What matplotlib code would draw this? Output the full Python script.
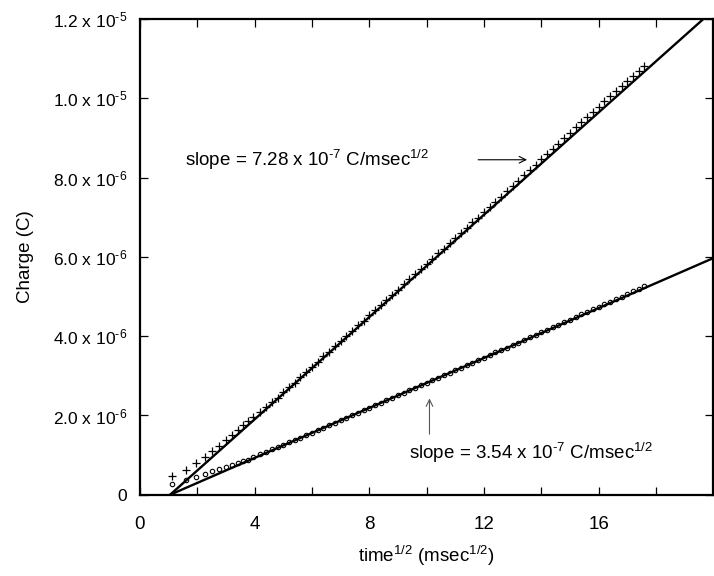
import matplotlib
matplotlib.use("Agg")
import matplotlib.pyplot as plt
from matplotlib.ticker import FixedLocator, FixedFormatter

plt.rcParams['font.family'] = ['Liberation Sans', 'DejaVu Sans']
plt.rcParams['mathtext.fontset'] = 'custom'
plt.rcParams['mathtext.rm'] = 'Liberation Sans'
plt.rcParams['mathtext.it'] = 'Liberation Sans'
plt.rcParams['mathtext.default'] = 'regular'

# ---- data ----
# square root of time, msec^1/2 (shared by both runs)
sqrt_t = [1.12, 1.62, 1.97, 2.26, 2.53, 2.76, 3.01, 3.22, 3.42, 3.61, 3.78, 3.95,
          4.2, 4.4, 4.6, 4.8, 5.0, 5.2, 5.4, 5.6, 5.8, 6.0, 6.2, 6.4, 6.6, 6.8,
          7.0, 7.2, 7.4, 7.6, 7.8, 8.0, 8.2, 8.4, 8.6, 8.8, 9.0, 9.2, 9.4, 9.6,
          9.8, 10.0, 10.2, 10.4, 10.6, 10.8, 11.0, 11.2, 11.4, 11.6, 11.8, 12.0,
          12.2, 12.4, 12.6, 12.8, 13.0, 13.2, 13.4, 13.6, 13.8, 14.0, 14.2, 14.4,
          14.6, 14.8, 15.0, 15.2, 15.4, 15.6, 15.8, 16.0, 16.2, 16.4, 16.6, 16.8,
          17.0, 17.2, 17.4, 17.6]

# charge, microcoulombs
charge_upper_uC = [0.48, 0.63, 0.81, 0.96, 1.10, 1.23, 1.37, 1.51, 1.64, 1.76, 1.86, 1.96,
                   2.09, 2.21, 2.33, 2.45, 2.58, 2.71, 2.83, 2.97, 3.09, 3.23, 3.35, 3.49, 3.61, 3.75,
                   3.87, 4.01, 4.13, 4.27, 4.39, 4.53, 4.65, 4.79, 4.91, 5.05, 5.17, 5.31, 5.43, 5.57,
                   5.69, 5.83, 5.95, 6.09, 6.21, 6.35, 6.47, 6.61, 6.73, 6.87, 6.99, 7.13,
                   7.25, 7.39, 7.52, 7.65, 7.79, 7.92, 8.06, 8.19, 8.33, 8.46, 8.60, 8.73,
                   8.86, 9.00, 9.13, 9.27, 9.40, 9.53, 9.66, 9.79, 9.92, 10.05, 10.18, 10.31,
                   10.44, 10.57, 10.70, 10.82]

charge_lower_uC = [0.27, 0.38, 0.46, 0.53, 0.60, 0.65, 0.71, 0.76, 0.80, 0.84, 0.88, 0.95,
                   1.03, 1.09, 1.15, 1.21, 1.26, 1.32, 1.38, 1.44, 1.50, 1.57, 1.63, 1.69, 1.75, 1.82,
                   1.88, 1.94, 2.00, 2.07, 2.13, 2.19, 2.26, 2.32, 2.38, 2.45, 2.51, 2.57, 2.64, 2.70,
                   2.76, 2.83, 2.89, 2.95, 3.02, 3.08, 3.14, 3.21, 3.27, 3.33, 3.40, 3.46,
                   3.52, 3.59, 3.65, 3.71, 3.78, 3.84, 3.90, 3.97, 4.03, 4.10, 4.16, 4.22,
                   4.29, 4.35, 4.42, 4.48, 4.55, 4.61, 4.68, 4.74, 4.81, 4.87, 4.94, 5.00,
                   5.07, 5.13, 5.20, 5.26]

# fitted lines (as drawn): x-intercept and slope in C per msec^1/2
fit_intercept = 1.05
fit_slope_upper = 6.45e-7
fit_slope_lower = 3.15e-7

xticks = [0, 4, 8, 12, 16]
xtick_minor = [2, 6, 10, 14, 18]
yticks = [0, 2e-6, 4e-6, 6e-6, 8e-6, 1.0e-5, 1.2e-5]
H = '\u2010'  # short hyphen used in the exponents
ytick_labels = ['0', '2.0 x 10$^{' + H + '6}$', '4.0 x 10$^{' + H + '6}$',
                '6.0 x 10$^{' + H + '6}$', '8.0 x 10$^{' + H + '6}$',
                '1.0 x 10$^{' + H + '5}$', '1.2 x 10$^{' + H + '5}$']

# ---- figure ----
fig = plt.figure(figsize=(7.14, 5.76), dpi=100)
ax = fig.add_axes([0.196, 0.141, 0.803, 0.826])

ax.plot(sqrt_t, [v * 1e-6 for v in charge_upper_uC], linestyle='none', marker='+',
        markersize=5.2, markeredgewidth=0.9, color='black', zorder=3)
ax.plot(sqrt_t, [v * 1e-6 for v in charge_lower_uC], linestyle='none', marker='o',
        markersize=3.2, markeredgewidth=0.8, markerfacecolor='white', color='black', zorder=3)

x_end = 20.0
ax.plot([fit_intercept, x_end], [0, fit_slope_upper * (x_end - fit_intercept)],
        color='black', linewidth=1.7, zorder=4)
ax.plot([fit_intercept, x_end], [0, fit_slope_lower * (x_end - fit_intercept)],
        color='black', linewidth=1.7, zorder=4)

ax.set_xlim(0, 20)
ax.set_ylim(0, 1.2e-5)

ax.xaxis.set_major_locator(FixedLocator(xticks))
ax.xaxis.set_minor_locator(FixedLocator(xtick_minor))
ax.yaxis.set_major_locator(FixedLocator(yticks))
ax.yaxis.set_major_formatter(FixedFormatter(ytick_labels))

ax.tick_params(axis='both', which='both', direction='in', top=True, right=True,
               length=6, width=0.9, color='black')
ax.tick_params(axis='x', which='major', labelsize=13.5, pad=15)
ax.tick_params(axis='y', which='major', labelsize=12.5, pad=9)

for s in ax.spines.values():
    s.set_linewidth(1.6)
    s.set_color('black')

ax.set_xlabel(r'time$^{1/2}$ (msec$^{1/2}$)', fontsize=13.5, labelpad=8)
ax.set_ylabel('Charge (C)', fontsize=13.5, labelpad=14)

ax.text(1.57, 8.45e-6, 'slope = 7.28 x 10$^{' + H + '7}$ C/msec$^{1/2}$', fontsize=13.5,
        ha='left', va='center')
ax.annotate('', xy=(13.6, 8.45e-6), xytext=(11.7, 8.45e-6),
            arrowprops=dict(arrowstyle='->', color='black', lw=0.8, mutation_scale=12))

ax.text(9.4, 1.06e-6, 'slope = 3.54 x 10$^{' + H + '7}$ C/msec$^{1/2}$', fontsize=13.5,
        ha='left', va='center')
ax.annotate('', xy=(10.1, 2.5e-6), xytext=(10.1, 1.46e-6),
            arrowprops=dict(arrowstyle='->', color='#555555', lw=0.8, mutation_scale=12))

fig.savefig('out.png', dpi=100)
